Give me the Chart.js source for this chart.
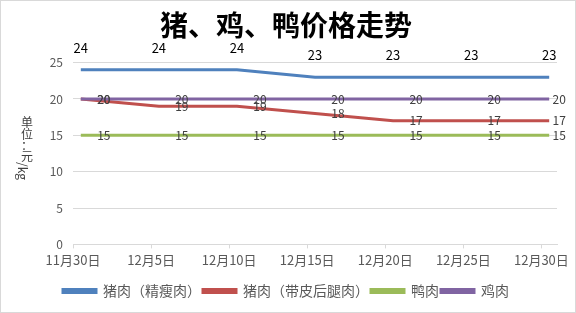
<!DOCTYPE html>
<html>
<head>
<meta charset="utf-8">
<script src="https://cdn.jsdelivr.net/npm/chart.js@4.4.1/dist/chart.umd.min.js"></script>
<style>
  html, body { margin: 0; padding: 0; background: #fff; }
  #wrap { width: 576px; height: 313px; border: 1px solid #d9d9d9; box-sizing: border-box; }
  canvas { display: block; }
</style>
</head>
<body>
<div id="wrap"><canvas id="priceChart" width="574" height="311"></canvas></div>
<script>
// dates (day offset from 11/30) and tick labels
const dates = ['11月30日', '12月5日', '12月10日', '12月15日', '12月20日', '12月25日', '12月30日'];
const days = [0, 5, 10, 15, 20, 25, 30];
const tickDays = [-0.5, 4.5, 9.5, 14.5, 19.5, 24.5, 29.5];

// prices, yuan/kg
const leanPork = [24, 24, 24, 23, 23, 23, 23];
const hamPork = [20, 19, 19, 18, 17, 17, 17];
const duck = [15, 15, 15, 15, 15, 15, 15];
const chicken = [20, 20, 20, 20, 20, 20, 20];

const FONT = '"Noto Sans CJK SC", "Noto Sans", sans-serif';

const toPoints = vals => vals.map((v, i) => ({ x: days[i], y: v }));

// value labels: blue above the point, the rest to the right
const valueLabels = {
  id: 'valueLabels',
  afterDatasetsDraw(chart) {
    const ctx = chart.ctx;
    ctx.save();
    chart.data.datasets.forEach((ds, i) => {
      const meta = chart.getDatasetMeta(i);
      meta.data.forEach((pt, j) => {
        const txt = String(ds.data[j].y);
        ctx.textBaseline = 'middle';
        ctx.textAlign = 'center';
        if (ds.labelAbove) {
          ctx.font = '13px ' + FONT;
          ctx.fillStyle = '#000';
          ctx.fillText(txt, pt.x, pt.y - 22);
        } else {
          ctx.font = '12px ' + FONT;
          ctx.fillStyle = '#404040';
          const last = j === meta.data.length - 1;
          ctx.fillText(txt, pt.x + (last ? 10 : 23), pt.y);
        }
      });
    });
    ctx.restore();
  }
};

// excel style vertical axis title: CJK stacked, latin rotated
const yTitle = {
  id: 'yTitle',
  afterDraw(chart) {
    const ctx = chart.ctx;
    ctx.save();
    ctx.fillStyle = '#404040';
    ctx.font = '12px ' + FONT;
    ctx.textAlign = 'center';
    ctx.textBaseline = 'middle';
    const x = 26;
    [['单', 121], ['位', 133], ['：', 144], ['元', 155]].forEach(([c, y]) => ctx.fillText(c, x, y));
    ctx.translate(x - 4, 161);
    ctx.rotate(Math.PI / 2);
    ctx.textAlign = 'left';
    ctx.fillText('/kg', 0, 0);
    ctx.restore();
  }
};

const ctx = document.getElementById('priceChart').getContext('2d');

new Chart(ctx, {
  type: 'line',
  data: {
    datasets: [
      { label: '猪肉（精瘦肉）', data: toPoints(leanPork), borderColor: '#4f81bd', backgroundColor: '#4f81bd', order: 1, labelAbove: true },
      { label: '猪肉（带皮后腿肉）', data: toPoints(hamPork), borderColor: '#c0504d', backgroundColor: '#c0504d', order: 2 },
      { label: '鸭肉', data: toPoints(duck), borderColor: '#9bbb59', backgroundColor: '#9bbb59', order: 3 },
      { label: '鸡肉', data: toPoints(chicken), borderColor: '#8064a2', backgroundColor: '#8064a2', order: 0 }
    ]
  },
  options: {
    responsive: false,
    animation: false,
    elements: {
      line: { borderWidth: 3, tension: 0 },
      point: { radius: 0, hoverRadius: 0 }
    },
    layout: { padding: { left: 14, right: 18, top: 0, bottom: 4 } },
    plugins: {
      title: {
        display: true,
        text: '猪、鸡、鸭价格走势',
        color: '#000',
        font: { family: FONT, size: 28, weight: 'bold' },
        padding: { top: 8, bottom: 20 }
      },
      legend: {
        position: 'bottom',
        labels: {
          color: '#595959',
          font: { family: FONT, size: 14 },
          boxWidth: 33,
          boxHeight: 3,
          padding: 2,
          sort: (a, b) => a.datasetIndex - b.datasetIndex
        }
      },
      tooltip: { enabled: false }
    },
    scales: {
      x: {
        type: 'linear',
        min: -0.5,
        max: 30.5,
        afterBuildTicks: s => { s.ticks = tickDays.map(v => ({ value: v })); },
        afterFit: s => { s.height += 10; },
        ticks: {
          callback: (v, i) => dates[i],
          autoSkip: false,
          maxRotation: 0,
          color: '#595959',
          font: { family: FONT, size: 13 },
          padding: 4
        },
        grid: { drawOnChartArea: false, tickLength: 4, color: '#d9d9d9' },
        border: { color: '#d9d9d9' }
      },
      y: {
        min: 0,
        max: 25,
        afterFit: s => { s.width = 58; },
        ticks: {
          stepSize: 5,
          color: '#595959',
          font: { family: FONT, size: 12 },
          padding: 10
        },
        grid: { color: '#d9d9d9', drawTicks: false },
        border: { display: false }
      }
    }
  },
  plugins: [valueLabels, yTitle]
});
</script>
</body>
</html>
